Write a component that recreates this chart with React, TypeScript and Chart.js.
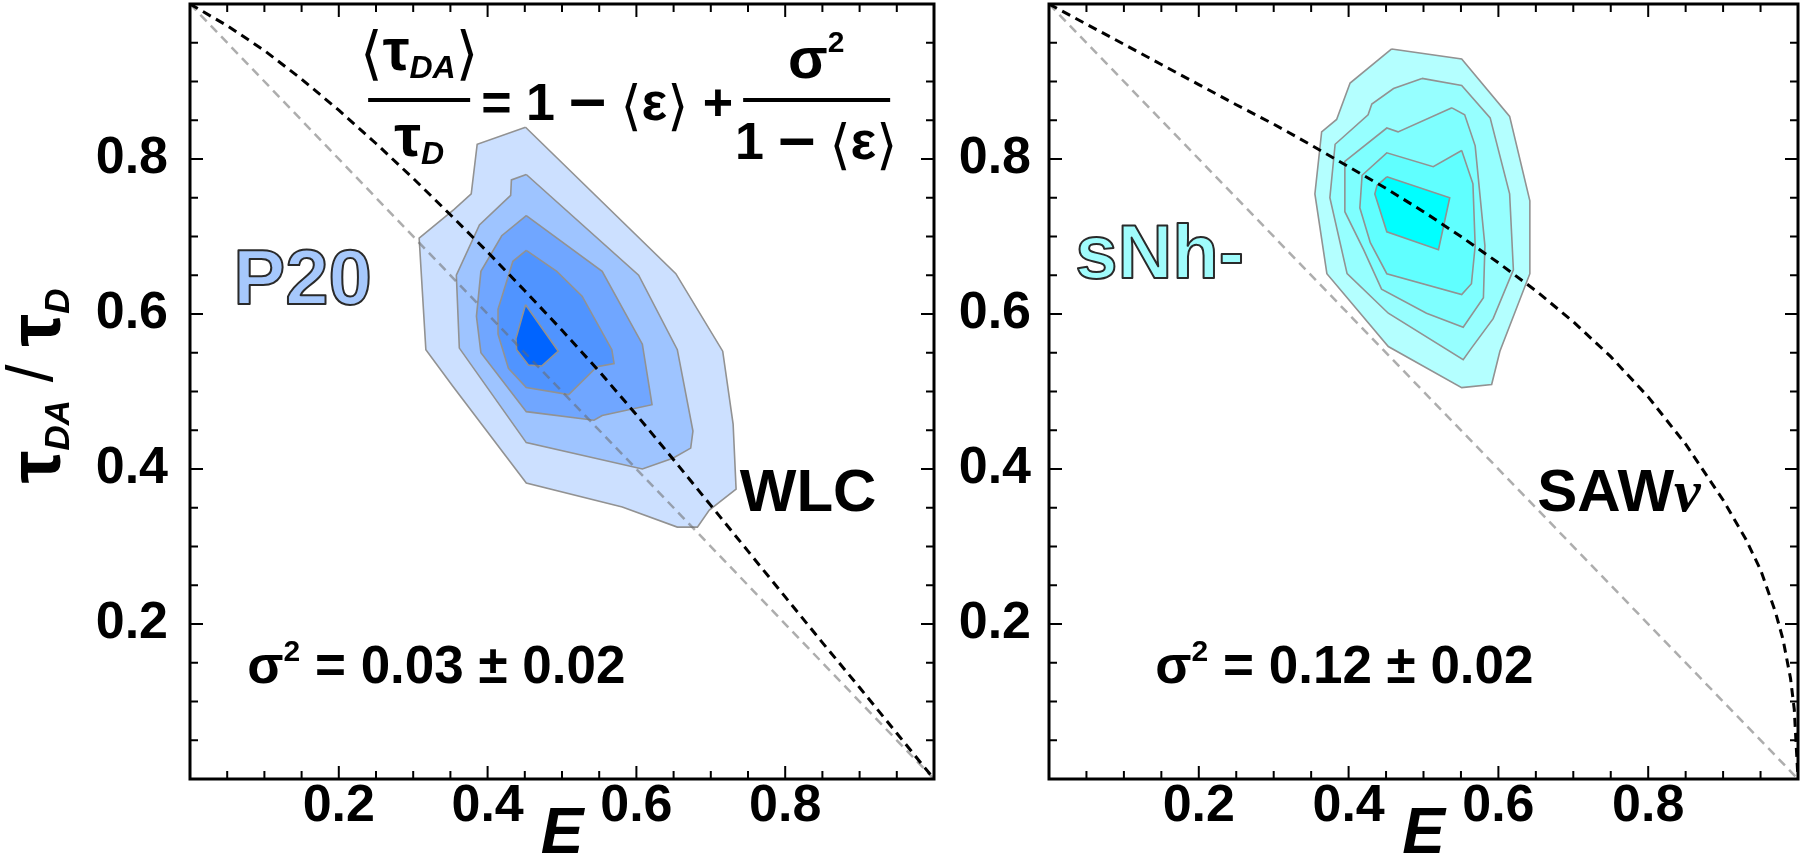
import React, { useEffect, useRef } from "react";
import { Chart, registerables } from "chart.js";

Chart.register(...registerables);

const FONT = "'Liberation Sans', Arial, 'DejaVu Sans', sans-serif";
const SERIF = "'Liberation Serif', 'DejaVu Serif', serif";
const BRK = "'DejaVu Sans', sans-serif";

// ---------- data ----------
const xTickLabels = ["0.2", "0.4", "0.6", "0.8"];
const yTickLabels = ["0.2", "0.4", "0.6", "0.8"];
const tickStep = 0.05;

const diagonalE = [0, 1];
const diagonalT = [1, 0];

// WLC model curve (left panel)
const wlcE = [0, 0.05, 0.1, 0.15, 0.2, 0.25, 0.3, 0.35, 0.4, 0.45, 0.5, 0.55, 0.6, 0.65, 0.7, 0.75, 0.8, 0.85, 0.9, 0.95, 1];
const wlcT = [1, 0.972, 0.94, 0.903, 0.863, 0.82, 0.775, 0.728, 0.68, 0.63, 0.579, 0.526, 0.47, 0.412, 0.353, 0.294, 0.235, 0.176, 0.118, 0.059, 0];

// SAWν model curve (right panel)
const sawE = [0, 0.05, 0.1, 0.15, 0.2, 0.25, 0.3, 0.35, 0.4, 0.45, 0.5, 0.55, 0.6, 0.65, 0.7, 0.75, 0.8, 0.85, 0.9, 0.93, 0.95, 0.97, 0.98, 0.99, 0.995, 1];
const sawT = [1, 0.974, 0.948, 0.922, 0.896, 0.87, 0.845, 0.818, 0.79, 0.762, 0.732, 0.7, 0.666, 0.63, 0.59, 0.545, 0.493, 0.432, 0.36, 0.31, 0.27, 0.215, 0.18, 0.13, 0.09, 0];

// P20 contour levels [E, τDA/τD], outermost first
const p20Level1 = [[0.451, 0.841], [0.386, 0.819], [0.378, 0.755], [0.355, 0.735], [0.308, 0.698], [0.317, 0.554], [0.353, 0.507], [0.452, 0.382], [0.581, 0.351], [0.655, 0.325], [0.682, 0.325], [0.698, 0.347], [0.734, 0.374], [0.730, 0.458], [0.716, 0.552], [0.653, 0.652]];
const p20Level2 = [[0.452, 0.78], [0.432, 0.773], [0.431, 0.753], [0.389, 0.715], [0.358, 0.65], [0.362, 0.556], [0.452, 0.434], [0.608, 0.4], [0.649, 0.414], [0.673, 0.427], [0.676, 0.449], [0.655, 0.554], [0.603, 0.65]];
const p20Level3 = [[0.452, 0.727], [0.419, 0.701], [0.391, 0.655], [0.385, 0.597], [0.391, 0.55], [0.452, 0.474], [0.543, 0.463], [0.554, 0.469], [0.621, 0.483], [0.608, 0.561], [0.554, 0.655]];
const p20Level4 = [[0.452, 0.682], [0.434, 0.668], [0.414, 0.606], [0.414, 0.574], [0.428, 0.53], [0.452, 0.505], [0.509, 0.496], [0.547, 0.532], [0.57, 0.536], [0.567, 0.554], [0.527, 0.623], [0.493, 0.655]];
const p20Level5 = [[0.451, 0.612], [0.438, 0.568], [0.439, 0.554], [0.455, 0.534], [0.473, 0.533], [0.495, 0.552]];
const p20Colors = ["rgb(204,224,255)", "rgb(158,196,255)", "rgb(112,166,255)", "rgb(80,148,255)", "rgb(0,100,255)"];

// sNh- contour levels
const snhLevel1 = [[0.4575, 0.942], [0.551, 0.929], [0.615, 0.855], [0.642, 0.746], [0.642, 0.652], [0.602, 0.552], [0.591, 0.509], [0.551, 0.505], [0.453, 0.558], [0.371, 0.652], [0.355, 0.755], [0.364, 0.835], [0.384, 0.851], [0.402, 0.898]];
const snhLevel2 = [[0.498, 0.904], [0.551, 0.895], [0.589, 0.853], [0.615, 0.755], [0.62, 0.657], [0.593, 0.594], [0.564, 0.556], [0.553, 0.541], [0.453, 0.601], [0.398, 0.652], [0.375, 0.75], [0.382, 0.819], [0.426, 0.857], [0.431, 0.871], [0.46, 0.891]];
const snhLevel3 = [[0.538, 0.866], [0.555, 0.857], [0.569, 0.817], [0.582, 0.688], [0.58, 0.621], [0.553, 0.583], [0.504, 0.601], [0.444, 0.632], [0.42, 0.683], [0.395, 0.732], [0.395, 0.797], [0.451, 0.84], [0.466, 0.835]];
const snhLevel4 = [[0.551, 0.811], [0.513, 0.79], [0.451, 0.808], [0.418, 0.779], [0.415, 0.737], [0.429, 0.692], [0.451, 0.652], [0.551, 0.625], [0.564, 0.639], [0.569, 0.688], [0.566, 0.768]];
const snhLevel5 = [[0.451, 0.777], [0.535, 0.75], [0.52, 0.683], [0.451, 0.706], [0.435, 0.755], [0.438, 0.766]];
const snhColors = ["rgb(180,255,255)", "rgb(150,255,255)", "rgb(126,255,255)", "rgb(96,255,255)", "rgb(0,255,255)"];

// ---------- text helpers ----------
type Run = { t: string; f: string; dy?: number };

function runsWidth(ctx: CanvasRenderingContext2D, runs: Run[]) {
  let w = 0;
  for (const r of runs) {
    ctx.font = r.f;
    w += ctx.measureText(r.t).width;
  }
  return w;
}

function drawRuns(ctx: CanvasRenderingContext2D, runs: Run[], x: number, y: number, align: "left" | "center") {
  const w = runsWidth(ctx, runs);
  let cx = align === "center" ? x - w / 2 : x;
  ctx.textAlign = "left";
  ctx.textBaseline = "alphabetic";
  for (const r of runs) {
    ctx.font = r.f;
    ctx.fillText(r.t, cx, y + (r.dy || 0));
    cx += ctx.measureText(r.t).width;
  }
}

function outlined(ctx: CanvasRenderingContext2D, text: string, x: number, y: number, font: string, fill: string) {
  ctx.save();
  ctx.font = font;
  ctx.textAlign = "left";
  ctx.textBaseline = "alphabetic";
  ctx.fillStyle = fill;
  ctx.fillText(text, x, y);
  ctx.lineWidth = 2;
  ctx.lineJoin = "round";
  ctx.strokeStyle = "#2a2a2a";
  ctx.strokeText(text, x, y);
  ctx.restore();
}

const isMajor = (v: number) => Math.abs(v * 5 - Math.round(v * 5)) < 1e-6;

const framePlugin = {
  id: "frameTicks",
  afterDatasetsDraw(chart: any) {
    const { ctx, chartArea: a, scales } = chart;
    ctx.save();
    ctx.strokeStyle = "#000";
    ctx.lineWidth = 2;
    for (const t of scales.x.ticks) {
      const v = t.value;
      if (v < 1e-6 || v > 1 - 1e-6) continue;
      const len = isMajor(v) ? 13 : 8;
      const p = scales.x.getPixelForValue(v);
      ctx.beginPath();
      ctx.moveTo(p, a.bottom);
      ctx.lineTo(p, a.bottom - len);
      ctx.moveTo(p, a.top);
      ctx.lineTo(p, a.top + len);
      ctx.stroke();
    }
    for (const t of scales.y.ticks) {
      const v = t.value;
      if (v < 1e-6 || v > 1 - 1e-6) continue;
      const len = isMajor(v) ? 13 : 8;
      const p = scales.y.getPixelForValue(v);
      ctx.beginPath();
      ctx.moveTo(a.left, p);
      ctx.lineTo(a.left + len, p);
      ctx.moveTo(a.right, p);
      ctx.lineTo(a.right - len, p);
      ctx.stroke();
    }
    ctx.lineWidth = 3;
    ctx.strokeRect(a.left, a.top, a.right - a.left, a.bottom - a.top);
    ctx.restore();
  },
};

function drawSigma(ctx: CanvasRenderingContext2D, value: string, x: number, y: number) {
  ctx.fillStyle = "#000";
  drawRuns(
    ctx,
    [
      { t: "σ", f: `bold 53px ${FONT}` },
      { t: "2", f: `bold 30px ${FONT}`, dy: -22 },
      { t: " = " + value, f: `bold 53px ${FONT}` },
    ],
    x,
    y,
    "left"
  );
}

function drawXTitle(chart: any) {
  const { ctx, chartArea: a } = chart;
  ctx.save();
  ctx.fillStyle = "#000";
  ctx.font = `italic bold 64px ${FONT}`;
  ctx.textAlign = "center";
  ctx.textBaseline = "alphabetic";
  ctx.fillText("E", (a.left + a.right) / 2, 853);
  ctx.restore();
}

function leftText(chart: any) {
  const { ctx, chartArea: a, scales } = chart;
  const px = (e: number) => scales.x.getPixelForValue(e);
  const py = (t: number) => scales.y.getPixelForValue(t);
  ctx.save();
  // y-axis title
  ctx.save();
  ctx.translate(a.left - 130, 386);
  ctx.rotate(-Math.PI / 2);
  ctx.fillStyle = "#000";
  drawRuns(
    ctx,
    [
      { t: "τ", f: `bold 74px ${FONT}` },
      { t: "DA", f: `italic bold 35px ${FONT}`, dy: 9 },
      { t: " / ", f: `64px ${FONT}`, dy: -8 },
      { t: "τ", f: `bold 74px ${FONT}` },
      { t: "D", f: `italic bold 35px ${FONT}`, dy: 9 },
    ],
    0,
    0,
    "center"
  );
  ctx.restore();

  // formula
  const ax = px(0.308);
  const ay = py(0.876);
  ctx.fillStyle = "#000";
  ctx.strokeStyle = "#000";
  ctx.lineWidth = 4;
  ctx.beginPath();
  ctx.moveTo(ax - 51, ay);
  ctx.lineTo(ax + 51, ay);
  ctx.moveTo(ax + 324, ay);
  ctx.lineTo(ax + 471, ay);
  ctx.stroke();
  drawRuns(
    ctx,
    [
      { t: "⟨", f: `58px ${BRK}`, dy: 3 },
      { t: "τ", f: `bold 60px ${FONT}` },
      { t: "DA", f: `italic bold 32px ${FONT}`, dy: 8 },
      { t: "⟩", f: `58px ${BRK}`, dy: 3 },
    ],
    ax,
    ay - 30,
    "center"
  );
  drawRuns(
    ctx,
    [
      { t: "τ", f: `bold 60px ${FONT}` },
      { t: "D", f: `italic bold 32px ${FONT}`, dy: 8 },
    ],
    ax,
    ay + 56,
    "center"
  );
  drawRuns(
    ctx,
    [
      { t: "= 1 ", f: `bold 52px ${FONT}` },
      { t: "–", f: `bold 66px ${FONT}`, dy: 1 },
      { t: " ", f: `bold 52px ${FONT}` },
      { t: "⟨", f: `54px ${BRK}`, dy: 4 },
      { t: "ε", f: `bold 54px ${FONT}` },
      { t: "⟩", f: `54px ${BRK}`, dy: 4 },
      { t: " +", f: `bold 52px ${FONT}` },
    ],
    ax + 62,
    ay + 20,
    "left"
  );
  drawRuns(
    ctx,
    [
      { t: "σ", f: `bold 58px ${FONT}` },
      { t: "2", f: `bold 30px ${FONT}`, dy: -26 },
    ],
    ax + 397,
    ay - 22,
    "center"
  );
  drawRuns(
    ctx,
    [
      { t: "1 ", f: `bold 52px ${FONT}` },
      { t: "–", f: `bold 66px ${FONT}`, dy: 1 },
      { t: " ", f: `bold 52px ${FONT}` },
      { t: "⟨", f: `54px ${BRK}`, dy: 4 },
      { t: "ε", f: `bold 54px ${FONT}` },
      { t: "⟩", f: `54px ${BRK}`, dy: 4 },
    ],
    ax + 397,
    ay + 59,
    "center"
  );

  outlined(ctx, "P20", px(0.058), py(0.613), `bold 78px ${FONT}`, "rgb(166,200,252)");
  ctx.fillStyle = "#000";
  ctx.font = `bold 60px ${FONT}`;
  ctx.textAlign = "left";
  ctx.fillText("WLC", px(0.739), py(0.346));
  drawSigma(ctx, "0.03 ± 0.02", px(0.077), py(0.124));
  ctx.restore();
  drawXTitle(chart);
}

function rightText(chart: any) {
  const { ctx, scales } = chart;
  const px = (e: number) => scales.x.getPixelForValue(e);
  const py = (t: number) => scales.y.getPixelForValue(t);
  ctx.save();
  outlined(ctx, "sNh-", px(0.035), py(0.646), `bold 76px ${FONT}`, "rgb(160,252,252)");
  ctx.fillStyle = "#000";
  drawRuns(
    ctx,
    [
      { t: "SAW", f: `bold 60px ${FONT}` },
      { t: "ν", f: `italic bold 60px ${SERIF}` },
    ],
    px(0.652),
    py(0.346),
    "left"
  );
  drawSigma(ctx, "0.12 ± 0.02", px(0.142), py(0.124));
  ctx.restore();
  drawXTitle(chart);
}

// ---------- panel ----------
type PanelProps = {
  left: number;
  width: number;
  yAxisWidth: number;
  padRight: number;
  yLabelPad: number;
  contours: number[][][];
  colors: string[];
  curveE: number[];
  curveT: number[];
  drawText: (chart: any) => void;
};

function Panel(props: PanelProps) {
  const ref = useRef<HTMLCanvasElement>(null);
  useEffect(() => {
    const canvas = ref.current!;
    const datasets: any[] = [];
    props.contours.forEach((poly, i) => {
      datasets.push({
        data: [...poly, poly[0]].map(([x, y]) => ({ x, y })),
        borderColor: "#929292",
        borderWidth: 1.6,
        backgroundColor: props.colors[i],
        fill: "shape",
        pointRadius: 0,
        tension: 0,
        order: 20 - i,
      });
    });
    datasets.push({
      data: diagonalE.map((x, i) => ({ x, y: diagonalT[i] })),
      borderColor: "rgba(105,105,105,0.55)",
      borderWidth: 2.5,
      borderDash: [9, 6],
      fill: false,
      pointRadius: 0,
      order: 2,
    });
    datasets.push({
      data: props.curveE.map((x, i) => ({ x, y: props.curveT[i] })),
      borderColor: "#000",
      borderWidth: 3,
      borderDash: [9, 6],
      fill: false,
      pointRadius: 0,
      tension: 0,
      order: 1,
    });

    const tickFont = { family: FONT, size: 52, weight: "bold" as const };
    const labelFor = (labels: string[]) => (value: any) => {
      const v = Number(value);
      const m = labels.find((l) => Math.abs(parseFloat(l) - v) < 1e-6);
      return m ?? "";
    };

    const textPlugin = { id: "texts", afterDraw: (chart: any) => props.drawText(chart) };

    const chart = new Chart(canvas, {
      type: "line",
      data: { datasets },
      options: {
        animation: false,
        responsive: false,
        devicePixelRatio: 1,
        events: [],
        layout: { padding: { left: 0, right: props.padRight, top: 4, bottom: 0 } },
        plugins: { legend: { display: false }, tooltip: { enabled: false } },
        scales: {
          x: {
            type: "linear",
            min: 0,
            max: 1,
            grid: { display: false },
            border: { display: false },
            ticks: {
              stepSize: tickStep,
              autoSkip: false,
              maxRotation: 0,
              minRotation: 0,
              padding: -12,
              color: "#000",
              font: tickFont,
              callback: labelFor(xTickLabels),
            },
            afterFit: (s: any) => {
              s.height = 88;
              s.paddingLeft = 0;
              s.paddingRight = 0;
            },
          },
          y: {
            type: "linear",
            min: 0,
            max: 1,
            grid: { display: false },
            border: { display: false },
            ticks: {
              stepSize: tickStep,
              autoSkip: false,
              padding: props.yLabelPad,
              color: "#000",
              font: tickFont,
              callback: labelFor(yTickLabels),
            },
            afterFit: (s: any) => {
              s.width = props.yAxisWidth;
              s.paddingTop = 0;
              s.paddingBottom = 0;
            },
          },
        },
      } as any,
      plugins: [framePlugin, textPlugin],
    });
    return () => chart.destroy();
  }, []);
  return (
    <canvas
      ref={ref}
      width={props.width}
      height={867}
      style={{ position: "absolute", left: props.left, top: 0, width: props.width, height: 867 }}
    />
  );
}

export default function App() {
  return (
    <div style={{ position: "absolute", left: 0, top: 0, width: 1800, height: 867, background: "#fff", overflow: "hidden" }}>
      <Panel
        left={0}
        width={940}
        yAxisWidth={190}
        padRight={6}
        yLabelPad={14}
        contours={[p20Level1, p20Level2, p20Level3, p20Level4, p20Level5]}
        colors={p20Colors}
        curveE={wlcE}
        curveT={wlcT}
        drawText={leftText}
      />
      <Panel
        left={940}
        width={860}
        yAxisWidth={109}
        padRight={2}
        yLabelPad={10}
        contours={[snhLevel1, snhLevel2, snhLevel3, snhLevel4, snhLevel5]}
        colors={snhColors}
        curveE={sawE}
        curveT={sawT}
        drawText={rightText}
      />
    </div>
  );
}
